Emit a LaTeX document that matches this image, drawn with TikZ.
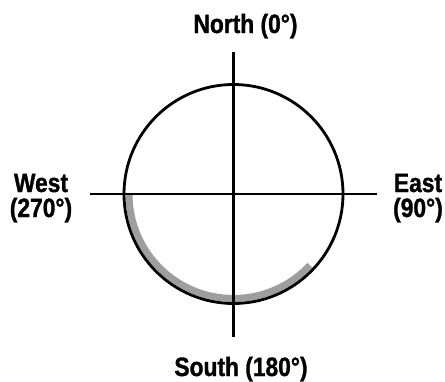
\documentclass[tikz,border=0pt]{standalone}
\usepackage{fontspec}
\setmainfont{Liberation Sans}[FakeStretch=0.86,BoldFeatures={FakeBold=1.2}]

\begin{document}
\begin{tikzpicture}[x=1pt,y=-1pt]
\tikzset{axis/.style={line width=2.8pt},compass/.style={font=\bfseries\fontsize{26.5}{25}\selectfont,align=center,inner sep=0pt,anchor=base}};
\useasboundingbox (0,0) rectangle (445,381);
\coordinate (centre) at (233.5,194);
\coordinate (top) at (233.5,52);
\coordinate (bottom) at (233.5,337);
\coordinate (left) at (90,194);
\coordinate (right) at (377,194);
    \draw[line width=7pt,color=black!38] ([shift={(180:104.5pt)}]centre) arc (180:317:104.5pt);
    \draw[axis] (centre) circle (109.5pt);
    \draw[axis] (top)--(bottom);
    \draw[axis] (left)--(right);
    \node[compass] (north) at (245.5,33) {North (0°)};
    \node[compass] (south) at (241,376) {South (180°)};
    \node[compass] (west) at (41,217) {West\\(270°)};
    \node[compass] (east) at (418,217) {East\\(90°)};
\end{tikzpicture}
\end{document}
